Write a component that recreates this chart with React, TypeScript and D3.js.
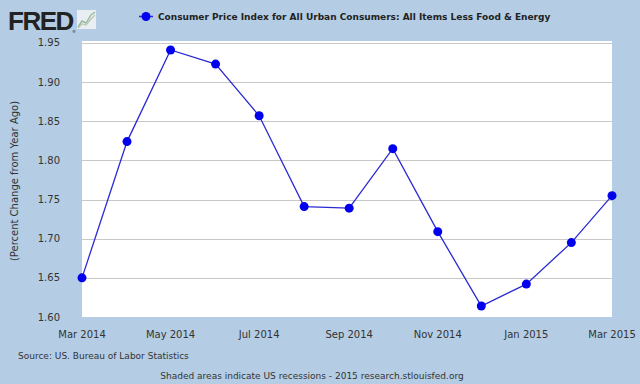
import React, { useEffect, useRef } from "react";
import * as d3 from "d3";

const months = [
  "2014-03", "2014-04", "2014-05", "2014-06", "2014-07", "2014-08", "2014-09",
  "2014-10", "2014-11", "2014-12", "2015-01", "2015-02", "2015-03",
];
const cpiValues = [1.65, 1.824, 1.941, 1.923, 1.857, 1.741, 1.739, 1.815, 1.709, 1.614, 1.642, 1.695, 1.755];
const yTicks = [1.6, 1.65, 1.7, 1.75, 1.8, 1.85, 1.9, 1.95];
const xTickMonths = ["2014-03", "2014-05", "2014-07", "2014-09", "2014-11", "2015-01", "2015-03"];

const seriesName = "Consumer Price Index for All Urban Consumers: All Items Less Food & Energy";

function App() {
  const ref = useRef<SVGSVGElement>(null);

  useEffect(() => {
    const svg = d3.select(ref.current);
    svg.selectAll("*").remove();

    const W = 640, H = 384;
    const left = 82, right = 612, top = 41, bottom = 317;
    const parse = d3.timeParse("%Y-%m");
    const data = months.map((m, i) => ({ date: parse(m)!, value: cpiValues[i] }));

    const x = d3.scaleTime()
      .domain([parse(months[0])!, parse(months[months.length - 1])!])
      .range([left, right]);
    const y = d3.scaleLinear().domain([1.6, 1.9525]).range([bottom, top]);

    const font = "DejaVu Sans, Verdana, sans-serif";
    const textColor = "#333";

    svg.append("rect").attr("width", W).attr("height", H).attr("fill", "#b4cde4");
    svg.append("rect")
      .attr("x", left).attr("y", top)
      .attr("width", right - left).attr("height", bottom - top)
      .attr("fill", "#fff");

    // grid
    svg.append("g")
      .selectAll("line")
      .data(yTicks.slice(1))
      .join("line")
      .attr("x1", left).attr("x2", right)
      .attr("y1", d => Math.round(y(d)) + 0.5).attr("y2", d => Math.round(y(d)) + 0.5)
      .attr("stroke", "#c8c8c8").attr("stroke-width", 1);

    // y labels
    svg.append("g")
      .selectAll("text")
      .data(yTicks)
      .join("text")
      .attr("x", 60).attr("y", d => y(d))
      .attr("dy", "0.35em")
      .attr("text-anchor", "end")
      .attr("font-family", font).attr("font-size", 10)
      .attr("fill", textColor)
      .text(d => d.toFixed(2));

    // x labels
    const fmt = d3.timeFormat("%b %Y");
    svg.append("g")
      .selectAll("text")
      .data(xTickMonths.map(m => parse(m)!))
      .join("text")
      .attr("x", d => x(d)).attr("y", 334)
      .attr("dy", "0.35em")
      .attr("text-anchor", "middle")
      .attr("font-family", font).attr("font-size", 10)
      .attr("fill", textColor)
      .text(d => fmt(d));

    // y axis title
    svg.append("text")
      .attr("transform", `translate(14,${(top + bottom) / 2 + 2}) rotate(-90)`)
      .attr("text-anchor", "middle")
      .attr("dy", "0.35em")
      .attr("font-family", font).attr("font-size", 10)
      .attr("fill", textColor)
      .text("(Percent Change from Year Ago)");

    // line + points
    const line = d3.line<{ date: Date; value: number }>()
      .x(d => x(d.date)).y(d => y(d.value));
    svg.append("path")
      .datum(data)
      .attr("d", line)
      .attr("fill", "none")
      .attr("stroke", "#2a2ad4")
      .attr("stroke-width", 1.3);
    svg.append("g")
      .selectAll("circle")
      .data(data)
      .join("circle")
      .attr("cx", d => x(d.date)).attr("cy", d => y(d.value))
      .attr("r", 4.5)
      .attr("fill", "#0000ee");

    // legend
    svg.append("line")
      .attr("x1", 139).attr("x2", 153).attr("y1", 16.5).attr("y2", 16.5)
      .attr("stroke", "#2a2ad4").attr("stroke-width", 1.5);
    svg.append("circle").attr("cx", 146).attr("cy", 16.5).attr("r", 4.5).attr("fill", "#0000ee");
    svg.append("text")
      .attr("x", 158).attr("y", 17)
      .attr("dy", "0.35em")
      .attr("font-family", font).attr("font-size", 9).attr("font-weight", "bold")
      .attr("fill", "#222")
      .text(seriesName);

    // FRED logo
    svg.append("text")
      .attr("x", 8).attr("y", 30)
      .attr("font-family", "Liberation Sans, Arial, sans-serif")
      .attr("font-size", 26).attr("font-weight", "bold")
      .attr("letter-spacing", -1.5)
      .attr("fill", "#222")
      .text("FRED");
    svg.append("text")
      .attr("x", 72).attr("y", 33)
      .attr("font-family", font).attr("font-size", 4)
      .attr("fill", "#222")
      .text("®");
    const icon = svg.append("g").attr("transform", "translate(77,10)");
    icon.append("rect").attr("width", 19).attr("height", 19).attr("fill", "#e8eef2");
    icon.append("polyline")
      .attr("points", "1,17 5,11 9,13 14,5 18,2")
      .attr("fill", "none").attr("stroke", "#9ab8a0").attr("stroke-width", 1.4);
    icon.append("polyline")
      .attr("points", "1,18 5,14 9,15 14,9 18,5")
      .attr("fill", "none").attr("stroke", "#b8c8b0").attr("stroke-width", 1.2);

    // footer
    svg.append("text")
      .attr("x", 18).attr("y", 356)
      .attr("dy", "0.35em")
      .attr("font-family", font).attr("font-size", 9)
      .attr("fill", textColor)
      .text("Source: US. Bureau of Labor Statistics");
    svg.append("text")
      .attr("x", 312).attr("y", 376)
      .attr("dy", "0.35em")
      .attr("text-anchor", "middle")
      .attr("font-family", font).attr("font-size", 9)
      .attr("fill", textColor)
      .text("Shaded areas indicate US recessions - 2015 research.stlouisfed.org");
  }, []);

  return (
    <svg
      ref={ref}
      width={640}
      height={384}
      style={{ position: "absolute", left: 0, top: 0, display: "block" }}
    />
  );
}

export default App;
